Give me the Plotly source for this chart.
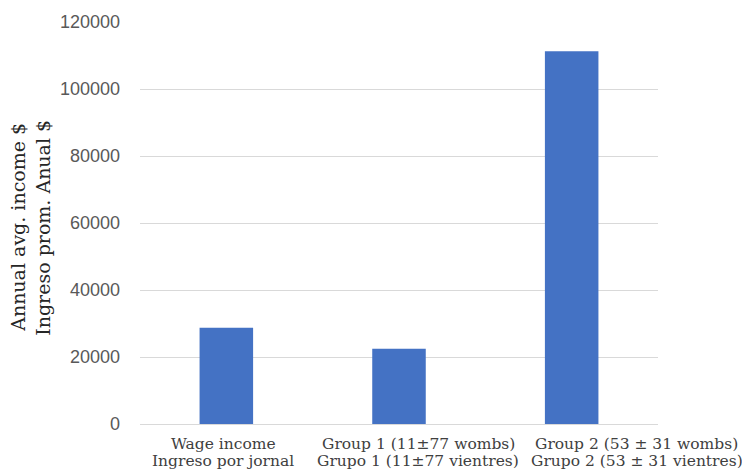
import plotly.graph_objects as go

categories = ["Wage income", "Group 1", "Group 2"]
values = [28700, 22500, 111300]
label_line1 = ["Wage income", "Group 1 (11±77 wombs)", "Group 2 (53 ± 31 wombs)"]
label_line2 = ["Ingreso por jornal", "Grupo 1 (11±77 vientres)", "Grupo 2 (53 ± 31 vientres)"]
label_xshift = [-3, 19, 65]
y_ticks = [0, 20000, 40000, 60000, 80000, 100000, 120000]
title_lines = ["Annual avg. income $", "Ingreso prom. Anual $"]

fig = go.Figure()
fig.add_trace(go.Bar(x=categories, y=values, marker=dict(color="#4472c4", line=dict(width=0)),
                     width=0.31))

serif = "DejaVu Serif"
anns = []
for i, c in enumerate(categories):
    anns.append(dict(x=c, xref="x", y=0, yref="paper", text=label_line1[i], showarrow=False,
                     xanchor="center", yanchor="middle", xshift=label_xshift[i], yshift=-20,
                     font=dict(family=serif, size=15.5, color="#404040")))
    anns.append(dict(x=c, xref="x", y=0, yref="paper", text=label_line2[i], showarrow=False,
                     xanchor="center", yanchor="middle", xshift=label_xshift[i], yshift=-36.5,
                     font=dict(family=serif, size=15.5, color="#404040")))
for j, (t, xs) in enumerate(zip(title_lines, [-122, -97])):
    anns.append(dict(x=0, xref="paper", y=0.488, yref="paper", text=t, showarrow=False,
                     textangle=-90, xanchor="center", yanchor="middle", xshift=xs,
                     font=dict(family=serif, size=19, color="#262626")))

fig.update_layout(
    width=742, height=470,
    margin=dict(l=140, r=84, t=22, b=46),
    paper_bgcolor="white", plot_bgcolor="white",
    showlegend=False,
    annotations=anns,
    xaxis=dict(showticklabels=False, showgrid=False, showline=True, linecolor="#d9d9d9",
               linewidth=1, zeroline=False, range=[-0.5, 2.5], autorange=False),
    yaxis=dict(range=[0, 120000], autorange=False, tickvals=y_ticks,
               ticktext=[str(v) for v in y_ticks],
               showgrid=True, gridcolor="#d9d9d9", gridwidth=1, zeroline=False,
               showline=False, ticks="", ticklabelstandoff=19,
               tickfont=dict(family="Liberation Sans", size=18, color="#595959")),
)
fig.write_html("out.html", config={"displayModeBar": False},
               post_script="document.body.style.margin='0';document.body.style.overflow='hidden';")
